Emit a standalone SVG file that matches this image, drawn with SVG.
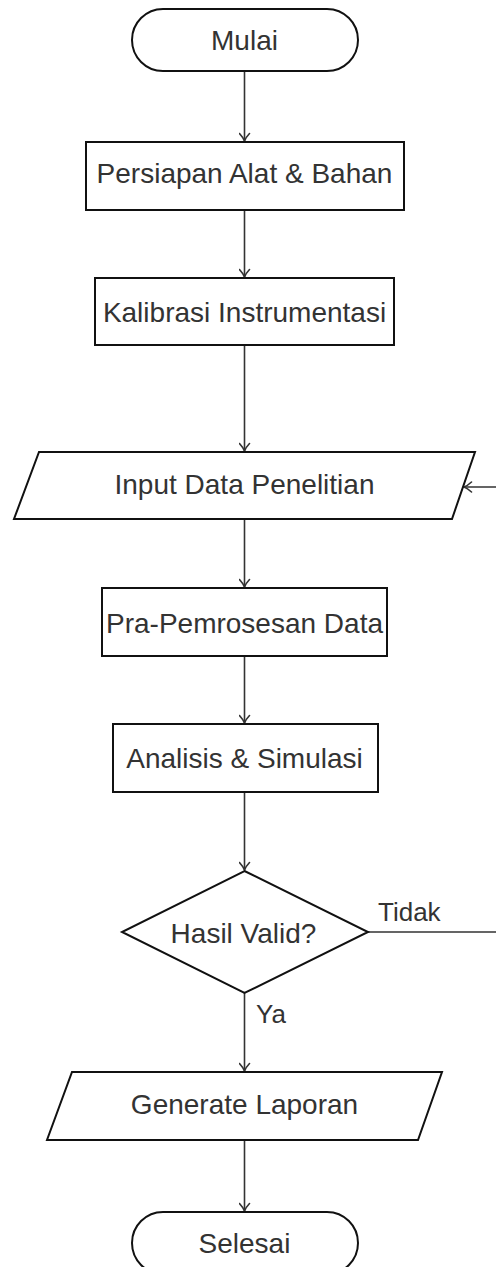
<svg xmlns="http://www.w3.org/2000/svg" width="496" height="1267" viewBox="0 0 496 1267">
  <style>
    .node { fill: #ffffff; stroke: #111111; stroke-width: 2; }
    .label { font-family: "Liberation Sans", Arial, sans-serif; font-size: 28px; fill: #333333; text-anchor: middle; }
    .edge { fill: none; stroke: #333333; stroke-width: 1.6; }
    .elabel { font-family: "Liberation Sans", Arial, sans-serif; font-size: 26px; fill: #333333; }
  </style>
  <defs>
    <marker id="arrow" viewBox="-9 -6 10 12" refX="0" refY="0" markerWidth="10" markerHeight="12" markerUnits="userSpaceOnUse" orient="auto">
      <path d="M-7.5,-5 C-4.5,-2.2 -1.8,-0.6 0,0 C-1.8,0.6 -4.5,2.2 -7.5,5" fill="none" stroke="#333333" stroke-width="1.6" stroke-linecap="round"/>
    </marker>
  </defs>
  <rect width="496" height="1267" fill="#ffffff"/>

  <g id="connectors">
    <line class="edge" x1="244.5" y1="71" x2="244.5" y2="141" marker-end="url(#arrow)"/>
    <line class="edge" x1="244.5" y1="210" x2="244.5" y2="277" marker-end="url(#arrow)"/>
    <line class="edge" x1="244.5" y1="345" x2="244.5" y2="451" marker-end="url(#arrow)"/>
    <line class="edge" x1="244.5" y1="519" x2="244.5" y2="587" marker-end="url(#arrow)"/>
    <line class="edge" x1="244.5" y1="656" x2="244.5" y2="723" marker-end="url(#arrow)"/>
    <line class="edge" x1="244.5" y1="792" x2="244.5" y2="870" marker-end="url(#arrow)"/>
    <line class="edge" x1="244.5" y1="993" x2="244.5" y2="1071" marker-end="url(#arrow)"/>
    <line class="edge" x1="244.5" y1="1140" x2="244.5" y2="1211" marker-end="url(#arrow)"/>
    <path class="edge" d="M368,932 H520 V487 H464" marker-end="url(#arrow)"/>
    <text class="elabel" x="378" y="921">Tidak</text>
    <text class="elabel" x="256" y="1023">Ya</text>
  </g>

  <g id="mulai">
    <rect class="node" x="132" y="9" width="226" height="62" rx="31" ry="31"/>
    <text class="label" x="244.5" y="50">Mulai</text>
  </g>
  <g id="persiapan">
    <rect class="node" x="86" y="142" width="318" height="68"/>
    <text class="label" x="244.5" y="183">Persiapan Alat &amp; Bahan</text>
  </g>
  <g id="kalibrasi">
    <rect class="node" x="95" y="278" width="299" height="67"/>
    <text class="label" x="244.5" y="322">Kalibrasi Instrumentasi</text>
  </g>
  <g id="input">
    <polygon class="node" points="39,452 475,452 452,519 14,519"/>
    <text class="label" x="244.5" y="494">Input Data Penelitian</text>
  </g>
  <g id="pra">
    <rect class="node" x="102" y="588" width="285" height="68"/>
    <text class="label" x="244.5" y="633">Pra-Pemrosesan Data</text>
  </g>
  <g id="analisis">
    <rect class="node" x="113" y="724" width="265" height="68"/>
    <text class="label" x="244.5" y="768">Analisis &amp; Simulasi</text>
  </g>
  <g id="valid">
    <polygon class="node" points="244.5,871 368,932 244.5,993 122,932"/>
    <text class="label" x="243.5" y="943">Hasil Valid?</text>
  </g>
  <g id="laporan">
    <polygon class="node" points="72,1072 442,1072 418,1140 47,1140"/>
    <text class="label" x="244.5" y="1114">Generate Laporan</text>
  </g>
  <g id="selesai">
    <rect class="node" x="132" y="1212" width="226" height="62" rx="31" ry="31"/>
    <text class="label" x="244.5" y="1253">Selesai</text>
  </g>
</svg>
